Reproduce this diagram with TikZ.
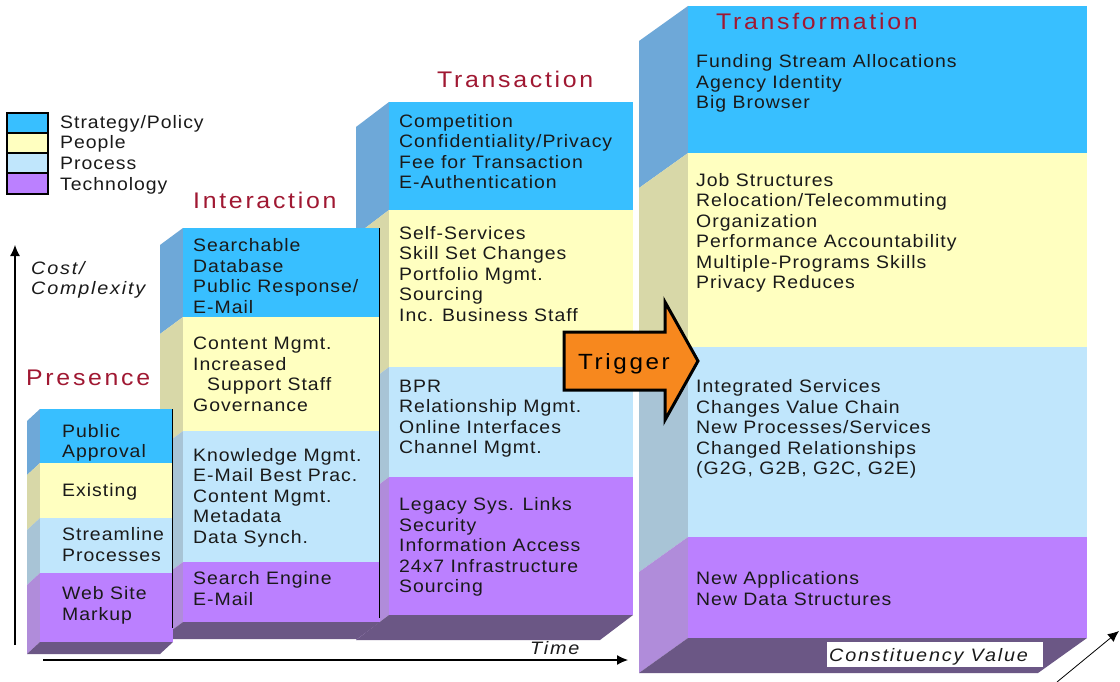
\documentclass[tikz,border=0pt]{standalone}
\usepackage{fontspec}
\setmainfont{Liberation Sans}
\newfontfamily\bodyfont[FakeStretch=1.08,LetterSpace=5.5]{Liberation Sans}
\newfontfamily\headfont[FakeStretch=1.1,LetterSpace=12]{Liberation Sans}
\newfontfamily\axfont[FakeStretch=1.1,LetterSpace=10]{Liberation Sans}
\usetikzlibrary{arrows.meta}
\definecolor{cblue}{HTML}{38BFFF}
\definecolor{cyellow}{HTML}{FFFFC0}
\definecolor{clblue}{HTML}{C0E6FC}
\definecolor{cpurple}{HTML}{BB80FF}
\definecolor{sblue}{HTML}{6EA8D8}
\definecolor{syellow}{HTML}{D8D8A8}
\definecolor{slblue}{HTML}{A8C4D6}
\definecolor{spurple}{HTML}{B08CDA}
\definecolor{slab}{HTML}{6B5785}
\definecolor{ttl}{RGB}{160,24,50}
\definecolor{txt}{HTML}{1A1A1A}
\definecolor{trig}{HTML}{F7881E}
\newcommand\lns[1]{\begin{tabular}[t]{@{}l@{}}#1\end{tabular}}
\newcommand\colbox[9]{%
  \fill[sblue] (#1,#3) -- ({#1-#8},{#3+#9}) -- ({#1-#8},{#4+#9}) -- (#1,#4) -- cycle;
  \fill[syellow] (#1,#4) -- ({#1-#8},{#4+#9}) -- ({#1-#8},{#5+#9}) -- (#1,#5) -- cycle;
  \fill[slblue] (#1,#5) -- ({#1-#8},{#5+#9}) -- ({#1-#8},{#6+#9}) -- (#1,#6) -- cycle;
  \fill[spurple] (#1,#6) -- ({#1-#8},{#6+#9}) -- ({#1-#8},{#7+#9}) -- (#1,#7) -- cycle;
  \fill[slab] (#1,#7) -- (#2,#7) -- ({#2-#8},{#7+#9}) -- ({#1-#8},{#7+#9}) -- cycle;
  \fill[cblue] (#1,#3) rectangle (#2,#4);
  \fill[cyellow] (#1,#4) rectangle (#2,#5);
  \fill[clblue] (#1,#5) rectangle (#2,#6);
  \fill[cpurple] (#1,#6) rectangle (#2,#7);
}
\tikzset{
  body/.style={anchor=base west, inner sep=0, text=txt, font={\bodyfont\fontsize{18}{20.5}\selectfont}},
  head/.style={anchor=base west, inner sep=0, text=ttl, font={\headfont\fontsize{22.6}{26}\selectfont}},
  axlabel/.style={anchor=base west, inner sep=0, text=txt, font={\axfont\itshape\fontsize{18}{20}\selectfont}},
  legbox/.style={draw=black, line width=1.2pt},
  edgeline/.style={draw=black, line width=1.5pt},
  axis/.style={draw=black, line width=1.2pt, -{Latex[length=11pt,width=10pt]}}
}
\begin{document}
\begin{tikzpicture}[x=1pt,y=-1pt]
\useasboundingbox (0,0) rectangle (1120,682);
\fill[white] (0,0) rectangle (1120,682);

% columns, back to front
\colbox{688}{1087}{6}{153}{347}{537}{638}{49}{35}
\colbox{389}{633}{102}{210}{367}{477}{615}{33}{25}
\colbox{183}{380}{228}{317}{431}{562}{622}{23}{17}
\colbox{40}{173}{409}{463}{518}{573}{642}{13}{12}

\draw[edgeline] (172.5,409) -- (172.5,628);
\draw[edgeline] (379.5,228) -- (379.5,618);

% legend
\draw[legbox, fill=cblue] (7,113) rectangle (48,133);
\draw[legbox, fill=cyellow] (7,133) rectangle (48,153);
\draw[legbox, fill=clblue] (7,153) rectangle (48,173);
\draw[legbox, fill=cpurple] (7,173) rectangle (48,194);
\node[body] (lg1) at (60,128.5) {Strategy/Policy};
\node[body] (lg2) at (60,148.5) {People};
\node[body] (lg3) at (60,169.5) {Process};
\node[body] (lg4) at (60,190.5) {Technology};

% titles
\node[head] (tPres) at (26,385) {Presence};
\node[head] (tInt) at (193,208) {Interaction};
\node[head] (tTra) at (437,88) {Transaction};
\node[head] (tTrf) at (716,30) {Transformation};

% presence
\node[body] (p1) at (62,437) {\lns{Public\\Approval}};
\node[body] (p2) at (62,496.5) {\lns{Existing}};
\node[body] (p3) at (62,540.5) {\lns{Streamline\\Processes}};
\node[body] (p4) at (62,599.5) {\lns{Web Site\\Markup}};

% interaction
\node[body] (i1) at (193,251.5) {\lns{Searchable\\Database\\Public Response/\\E-Mail}};
\node[body] (i2) at (193,349.5) {\lns{Content Mgmt.\\Increased\\\hspace*{14pt}Support Staff\\Governance}};
\node[body] (i3) at (193,461) {\lns{Knowledge Mgmt.\\E-Mail Best Prac.\\Content Mgmt.\\Metadata\\Data Synch.}};
\node[body] (i4) at (193,584.5) {\lns{Search Engine\\E-Mail}};

% transaction
\node[body] (r1) at (399,127.5) {\lns{Competition\\Confidentiality/Privacy\\Fee for Transaction\\E-Authentication}};
\node[body] (r2) at (399,239.5) {\lns{Self-Services\\Skill Set Changes\\Portfolio Mgmt.\\Sourcing\\Inc. Business Staff}};
\node[body] (r3) at (399,392) {\lns{BPR\\Relationship Mgmt.\\Online Interfaces\\Channel Mgmt.}};
\node[body] (r4) at (399,510.5) {\lns{Legacy Sys. Links\\Security\\Information Access\\24x7 Infrastructure\\Sourcing}};

% transformation
\node[body] (f1) at (696,68) {\lns{Funding Stream Allocations\\Agency Identity\\Big Browser}};
\node[body] (f2) at (696,186.5) {\lns{Job Structures\\Relocation/Telecommuting\\Organization\\Performance Accountability\\Multiple-Programs Skills\\Privacy Reduces}};
\node[body] (f3) at (696,392.5) {\lns{Integrated Services\\Changes Value Chain\\New Processes/Services\\Changed Relationships\\(G2G, G2B, G2C, G2E)}};
\node[body] (f4) at (696,584.5) {\lns{New Applications\\New Data Structures}};

% trigger arrow
\draw[fill=trig, line width=3pt, line join=miter] (564,332) -- (665,332) -- (665,302) -- (698,361) -- (665,420) -- (665,390) -- (564,390) -- cycle;
\node[anchor=base west, inner sep=0, text=black, font={\headfont\fontsize{22}{26}\selectfont}] (trg) at (578,369) {Trigger};

% axes
\coordinate (yB) at (15,645);
\coordinate (yT) at (15,245);
\draw[axis] (yB) -- (yT);
\node[axlabel] (cc) at (31,274.5) {\lns{Cost/\\Complexity}};
\coordinate (xB) at (43,660);
\coordinate (xT) at (628,660);
\draw[axis] (xB) -- (xT);
\node[axlabel] (tm) at (530,654.5) {Time};
\coordinate (dB) at (1057,682);
\coordinate (dT) at (1119,631);
\draw[axis, line width=0.8pt] (dB) -- (dT);
\fill[white] (827,642) rectangle (1043,667);
\node[axlabel] (cv) at (829,661) {Constituency Value};
\end{tikzpicture}
\end{document}
